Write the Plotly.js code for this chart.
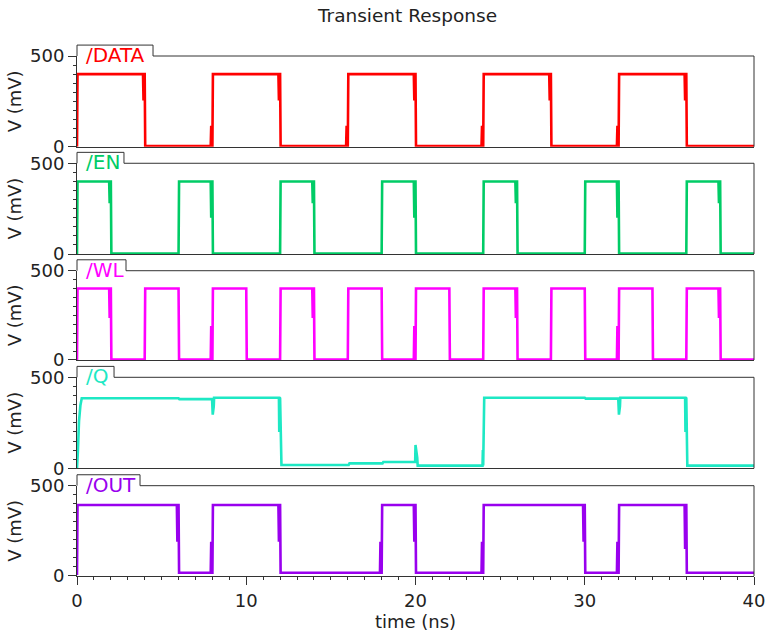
<!DOCTYPE html>
<html>
<head>
<meta charset="utf-8">
<script src="https://cdn.plot.ly/plotly-3.0.1.min.js"></script>
<style>html,body{margin:0;padding:0;background:#fff;}#chart{width:766px;height:634px;}</style>
</head>
<body>
<div id="chart"></div>
<script>
// ---------- data (time in ns, voltage in mV) ----------
const signalNames = ['/DATA', '/EN', '/WL', '/Q', '/OUT'];

const dataEdges  = [0, 4, 8, 12, 16, 20, 24, 28, 32, 36];
const dataLevels = [400, 4, 400, 4, 400, 4, 400, 4, 400, 4];
const dataGlitch = [null, 255, 115, 255, 115, 255, 115, 255, 115, 255];

const enEdges  = [0, 2, 6, 8, 12, 14, 18, 20, 24, 26, 30, 32, 36, 38];
const enLevels = [400, 3, 400, 3, 400, 3, 400, 3, 400, 3, 400, 3, 400, 3];
const enGlitch = [null, 280, null, 200, null, 280, null, 200, null, 280, null, 200, null, 280];

const wlEdges  = [0, 2, 4, 6, 8, 10, 12, 14, 16, 18, 20, 22, 24, 26, 28, 30, 32, 34, 36, 38];
const wlLevels = [400, 3, 400, 3, 400, 3, 400, 3, 400, 3, 400, 3, 400, 3, 400, 3, 400, 3, 400, 3];
const wlGlitch = [null, 235, null, null, 190, null, null, 235, null, null, 190, null, null, 235, null, null, 190, null, null, 235];

const qTime = [0, 0.05, 0.12, 0.2, 0.28, 6.0, 6.05, 7.98, 8.02, 8.08, 8.1, 11.93, 11.95, 11.97, 12.0, 12.08,
               16.05, 16.1, 18.05, 18.1, 19.98, 20.0, 20.1, 20.13, 23.96, 23.98, 24.0, 24.06,
               30.0, 30.05, 31.98, 32.02, 32.08, 32.1, 35.93, 35.95, 35.97, 36.0, 36.06, 40];
const qVolt = [0, 90, 260, 345, 385, 385, 380, 380, 295, 340, 388, 388, 200, 388, 385, 18,
               18, 27, 27, 35, 35, 128, 60, 15, 15, 100, 15, 388,
               388, 383, 383, 295, 340, 388, 388, 200, 388, 385, 15, 15];

const outEdges  = [0, 6, 8, 12, 18, 20, 24, 30, 32, 36];
const outLevels = [393, 18, 393, 18, 393, 18, 393, 18, 393, 18];
const outGlitch = [null, 190, 190, 190, 190, 190, 190, 190, 190, 150];

const timeRange = [0, 40];
const voltRange = [0, 500];
const xTicks = [0, 10, 20, 30, 40];

// ---------- styles ----------
const colors = ['#ff0000', '#00cc66', '#ff00ff', '#1ee8c4', '#9900ee'];
const yDomains = [[0.8256, 1.0], [0.6192, 0.7937], [0.4154, 0.5871], [0.2071, 0.3821], [0.0, 0.1737]];
const tabWidths = [0.1123, 0.0694, 0.0724, 0.0547, 0.0931];
const tabHeight = 0.0210;
const frameColor = '#333333';
const FONT = 'DejaVu Sans, Verdana, sans-serif';
const TXT = '#222222';

function stepWave(edges, levels, glitch, start) {
  const x = [0], y = [start];
  let prev = start;
  edges.forEach((te, i) => {
    const v = levels[i];
    if (te > 0) {
      x.push(te - 0.1); y.push(prev);
      if (glitch[i] != null) { x.push(te - 0.07, te - 0.05); y.push(glitch[i], prev); }
      x.push(te); y.push(prev);
    }
    x.push(te + 0.03); y.push(v);
    prev = v;
  });
  x.push(timeRange[1]); y.push(prev);
  return {x, y};
}

const waves = [
  stepWave(dataEdges, dataLevels, dataGlitch, 0),
  stepWave(enEdges, enLevels, enGlitch, 0),
  stepWave(wlEdges, wlLevels, wlGlitch, 0),
  {x: qTime, y: qVolt},
  stepWave(outEdges, outLevels, outGlitch, 5)
];

const traces = waves.map((w, i) => ({
  type: 'scatter', mode: 'lines',
  x: w.x, y: w.y,
  xaxis: 'x' + (i + 1), yaxis: 'y' + (i + 1),
  line: {color: colors[i], width: 2.6, simplify: false},
  hoverinfo: 'skip', showlegend: false
}));

const layout = {
  width: 766, height: 634,
  margin: {l: 77, r: 12, t: 56, b: 58},
  paper_bgcolor: '#ffffff', plot_bgcolor: '#ffffff',
  showlegend: false,
  font: {family: FONT, size: 18, color: TXT},
  title: {text: 'Transient Response', xref: 'container', x: 0.532, xanchor: 'center',
          yref: 'container', y: 0.976, yanchor: 'middle', font: {family: FONT, size: 18.5, color: TXT}},
  shapes: [], annotations: []
};

for (let i = 0; i < 5; i++) {
  const xa = 'xaxis' + (i + 1), ya = 'yaxis' + (i + 1);
  const bottom = (i === 4);
  layout[xa] = {
    domain: [0, 1], range: timeRange, anchor: 'y' + (i + 1),
    showgrid: false, zeroline: false, showline: true, linecolor: frameColor, linewidth: 1,
    ticks: bottom ? 'outside' : '', ticklen: 8, tickcolor: frameColor,
    tickvals: bottom ? xTicks : [], showticklabels: bottom,
    tickfont: {family: FONT, size: 18, color: TXT},
    minor: bottom ? {dtick: 1, tick0: 0, ticks: 'outside', ticklen: 3, tickcolor: frameColor} : undefined,
    title: bottom ? {text: 'time (ns)', standoff: 5, font: {family: FONT, size: 18, color: TXT}} : undefined,
    fixedrange: true, automargin: false
  };
  if (i > 0) layout[xa].matches = 'x';
  layout[ya] = {
    domain: yDomains[i], range: voltRange, anchor: 'x' + (i + 1),
    showgrid: false, zeroline: false, showline: true, linecolor: frameColor, linewidth: 1,
    tickmode: 'linear', tick0: 0, dtick: 500,
    ticks: 'outside', ticklen: 8, tickcolor: frameColor,
    tickfont: {family: FONT, size: 18, color: TXT},
    minor: {dtick: 50, tick0: 0, ticks: 'outside', ticklen: 3, tickcolor: frameColor},
    title: {text: 'V (mV)', standoff: 3, font: {family: FONT, size: 18, color: TXT}},
    fixedrange: true, automargin: false
  };
  const top = yDomains[i][1], bot = yDomains[i][0], tw = tabWidths[i];
  layout.shapes.push({
    type: 'path', xref: 'paper', yref: 'paper',
    path: `M 0 ${top} L 0 ${top + tabHeight} L ${tw} ${top + tabHeight} L ${tw} ${top} L 1 ${top} L 1 ${bot}`,
    line: {color: frameColor, width: 1}, fillcolor: 'rgba(0,0,0,0)'
  });
  layout.annotations.push({
    text: signalNames[i], xref: 'paper', yref: 'paper', x: 0.011, y: top,
    xanchor: 'left', yanchor: 'middle', showarrow: false, yshift: 1,
    font: {family: FONT, size: 20, color: colors[i]}
  });
}

Plotly.newPlot('chart', traces, layout, {displayModeBar: false, staticPlot: true});
</script>
</body>
</html>
